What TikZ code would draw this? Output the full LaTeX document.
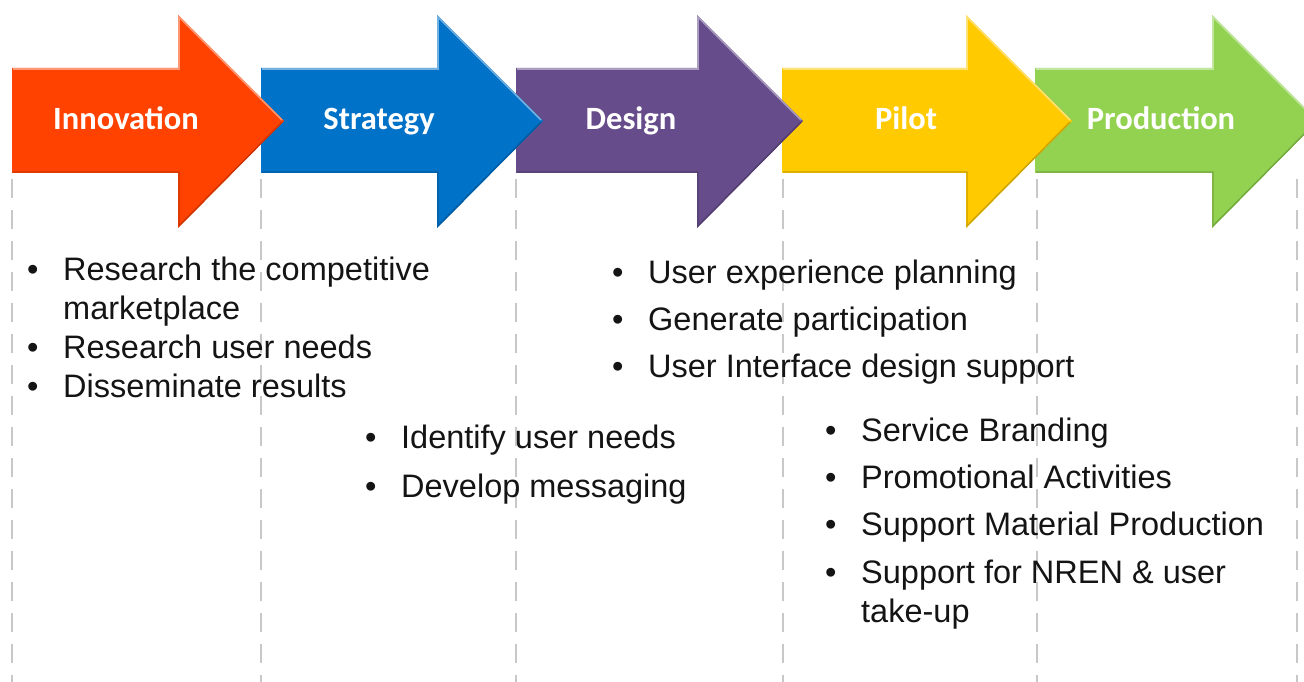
\documentclass[tikz,border=0pt]{standalone}
\usepackage{fontspec}
\setmainfont{Liberation Sans}
\newfontfamily\stagefont{Carlito}
\usetikzlibrary{positioning}

\definecolor{innovcol}{RGB}{255,66,0}
\definecolor{stratcol}{RGB}{0,114,200}
\definecolor{designcol}{RGB}{102,76,138}
\definecolor{pilotcol}{RGB}{255,202,0}
\definecolor{prodcol}{RGB}{146,210,80}
\definecolor{sepgray}{RGB}{200,200,200}

\begin{document}
\begin{tikzpicture}[x=1pt,y=-1pt,
	stage/.style={anchor=base,inner sep=0pt,text=white,font=\stagefont\bfseries\fontsize{32.5}{38}\selectfont},
	items/.style={anchor=base west,inner sep=0pt,text=black!92,font=\fontsize{32.5}{39}\selectfont},
	separator/.style={sepgray,line width=2.2pt,dash pattern=on 19pt off 12pt}]

	\useasboundingbox (0,0) rectangle (1304,682);

	% dashed column separators
	\foreach \x in {12,261,516,783,1037,1297}
		\draw[separator] (\x,179) -- (\x,682);

	% stage arrows, last one first so each tip lies over the next body
	\foreach \l/\h/\c/\col/\name/\txt in {
			1035/1212/1161/prodcol/production/Production,
			782/966/906/pilotcol/pilot/Pilot,
			516/697/631/designcol/design/Design,
			261/437/379/stratcol/strategy/Strategy,
			12/178/126/innovcol/innovation/Innovation}
	{
		\fill[\col] (\l,68) -- (\h,68) -- (\h,15) -- (\h+106,121) -- (\h,228) -- (\h,173) -- (\l,173) -- cycle;
		\draw[\col!55!white,line width=1.6pt] (\l+1,69) -- (\h+1,69) -- (\h+1,17) -- (\h+104,120);
		\draw[\col!80!black,line width=1.4pt] (\l+1,172) -- (\h+1,172) -- (\h+1,226) -- (\h+104,122);
		\node[stage] (\name) at (\c,130) {\txt};
	}

	% bullet lists under the stages
	\node[items] (innovitems) at (27,280) {\begin{tabular}[t]{@{}p{36pt}@{}l@{}}
		\textbullet & Research the competitive\\
		& marketplace\\
		\textbullet & Research user needs\\
		\textbullet & Disseminate results
	\end{tabular}};

	\node[items] (stratitems) at (365,448) {\begin{tabular}[t]{@{}p{36pt}@{}l@{}}
		\textbullet & Identify user needs\\[10pt]
		\textbullet & Develop messaging
	\end{tabular}};

	\node[items] (designitems) at (612,283) {\begin{tabular}[t]{@{}p{36pt}@{}l@{}}
		\textbullet & User experience planning\\[8pt]
		\textbullet & Generate participation\\[8pt]
		\textbullet & User Interface design support
	\end{tabular}};

	\node[items] (pilotitems) at (825,441) {\begin{tabular}[t]{@{}p{36pt}@{}l@{}}
		\textbullet & Service Branding\\[8pt]
		\textbullet & Promotional Activities\\[8pt]
		\textbullet & Support Material Production\\[9pt]
		\textbullet & Support for NREN \& user\\
		& take-up
	\end{tabular}};

\end{tikzpicture}
\end{document}
